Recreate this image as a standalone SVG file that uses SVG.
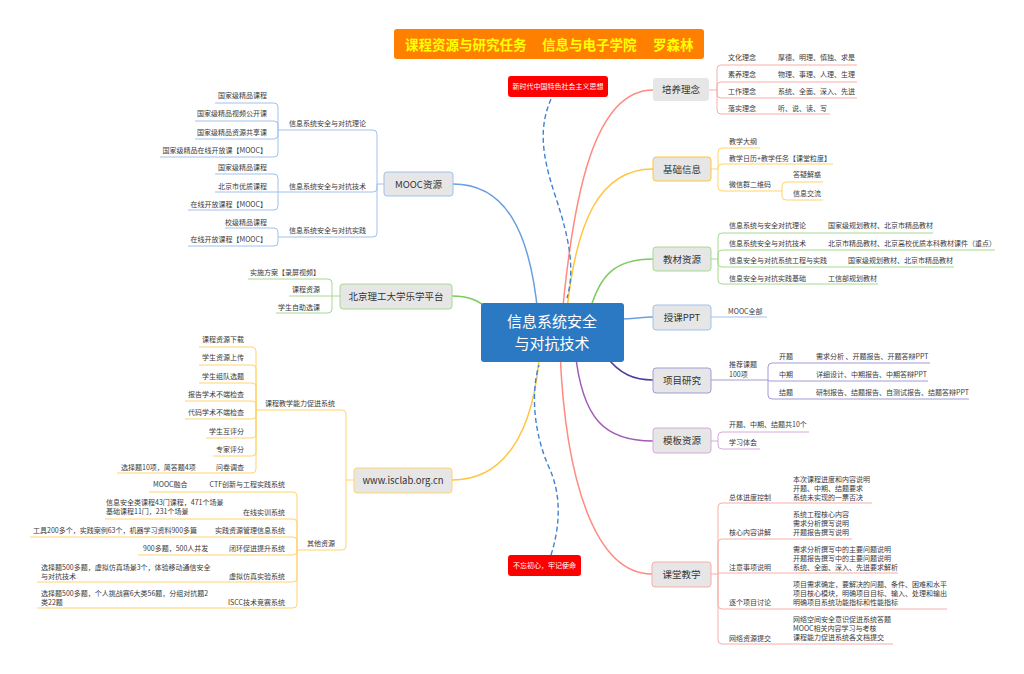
<svg xmlns="http://www.w3.org/2000/svg" width="1024" height="674" viewBox="0 0 1024 674">
<style>
text{font-family:"Noto Sans CJK SC","Noto Sans",sans-serif;}
.t{font-size:7px;fill:#3a3a3a}
.e{text-anchor:end}
.n{font-size:9.5px;fill:#333;text-anchor:middle}
.box{fill:#E6E6E6;stroke-width:1}
path{fill:none}
.m{stroke-width:1.5}
.k{stroke-width:1}
.red{stroke:#FF8A80}.redS{stroke:#F8ADA6}
.yel{stroke:#FFC53D}.yelS{stroke:#FFD46E}
.grn{stroke:#7CCB5E}.grnS{stroke:#A5DB8E}
.blu{stroke:#6B9FE3}.bluS{stroke:#A0C2EE}
.pur{stroke:#4B3EA0}.purS{stroke:#A29AD8}
.mag{stroke:#A15BB4}.magS{stroke:#D6A8DB}
.dash{stroke:#3F82D2;stroke-width:1.4;stroke-dasharray:5 3}
.rt{font-size:7px;fill:#fff;text-anchor:middle}
</style>
<defs>
<marker id="ar" viewBox="0 0 10 10" refX="9" refY="5" markerWidth="7" markerHeight="7" orient="auto" markerUnits="userSpaceOnUse">
<path d="M0,1 L10,5 L0,9 z" fill="#3F82D2" stroke="none"/>
</marker>
</defs>
<rect width="1024" height="674" fill="#fff"/>

<g id="connectors">
<path class="m red" d="M560,340 C572,190 595,90 653,90"/>
<path class="m yel" d="M566,320 C575,220 600,169 653,169"/>
<path class="m grn" d="M590,310 C600,275 615,259 653,259"/>
<path class="m blu" d="M620,319 C635,319 640,317 653,317"/>
<path class="m pur" d="M605,355 C620,375 635,380 653,380"/>
<path class="m mag" d="M575,350 C582,420 605,441 653,441"/>
<path class="m red" d="M560,350 C565,480 595,574 652,574"/>
<path class="m blu" d="M453,184 C505,184 530,230 538,315"/>
<path class="m grn" d="M452,296 C468,296 478,300 490,310"/>
<path class="m yel" d="M540,345 C535,440 500,480 452,480"/>
<path class="dash" d="M551,99 C540,125 540,150 555,195 C570,240 575,270 567,298" marker-end="url(#ar)"/>
<path class="dash" d="M551,555 C562,520 560,490 548,465 C535,435 530,395 539,365" marker-end="url(#ar)"/>

<g class="k redS">
<path d="M709,90H717"/>
<path d="M717,90V69Q717,65 721,65H857"/>
<path d="M717,90V86Q717,82 721,82H857"/>
<path d="M717,90V94Q717,98 721,98H857"/>
<path d="M717,90V110Q717,114 721,114H830"/>
</g>
<g class="k yelS">
<path d="M711,169H718"/>
<path d="M718,169V152Q718,148 722,148H760"/>
<path d="M718,169V168Q718,164 722,164H833"/>
<path d="M718,169V187Q718,191 722,191H782"/>
<path d="M782,191V186Q782,182 786,182H823"/>
<path d="M782,191V196Q782,200 786,200H823"/>
</g>
<g class="k grnS">
<path d="M711,259H718"/>
<path d="M718,259V237Q718,233 722,233H933"/>
<path d="M718,259V254Q718,250 722,250H995"/>
<path d="M718,259V263Q718,267 722,267H954"/>
<path d="M718,259V280Q718,284 722,284H878"/>
</g>
<g class="k bluS">
<path d="M711,317H767"/>
</g>
<g class="k purS">
<path d="M711,380H768"/>
<path d="M768,380V367Q768,363 772,363H930"/>
<path d="M768,380L769,381H928"/>
<path d="M768,380V395Q768,399 772,399H969"/>
</g>
<g class="k magS">
<path d="M711,441H718"/>
<path d="M718,441V436Q718,432 722,432H809"/>
<path d="M718,441V445Q718,449 722,449H760"/>
</g>
<g class="k redS">
<path d="M711,574H718"/>
<path d="M718,574V507Q718,503 722,503H872"/>
<path d="M718,574V543Q718,539 722,539H852"/>
<path d="M718,574L719,573H898"/>
<path d="M718,574V605Q718,609 722,609H947"/>
<path d="M718,574V640Q718,644 722,644H893"/>
</g>
<g class="k bluS">
<path d="M384,184H377"/>
<path d="M377,184V134Q377,130 373,130H278"/>
<path d="M377,184V188Q377,192 373,192H278"/>
<path d="M377,184V233Q377,237 373,237H278"/>
<path d="M278,130V107Q278,103 274,103H215"/>
<path d="M278,130V125Q278,121 274,121H195"/>
<path d="M278,130V135Q278,139 274,139H195"/>
<path d="M278,130V153Q278,157 274,157H160"/>
<path d="M278,192V178Q278,174 274,174H215"/>
<path d="M278,192H215"/>
<path d="M278,192V206Q278,210 274,210H188"/>
<path d="M278,237V232Q278,228 274,228H225"/>
<path d="M278,237V242Q278,246 274,246H188"/>
</g>
<g class="k grnS">
<path d="M340,296H332"/>
<path d="M332,296V283Q332,279 328,279H248"/>
<path d="M332,296H289"/>
<path d="M332,296V309Q332,313 328,313H276"/>
</g>
<g class="k yelS">
<path d="M354,480H346"/>
<path d="M346,480V414Q346,410 342,410H256"/>
<path d="M346,480V546Q346,550 342,550H297"/>
<path d="M256,410V351Q256,347 252,347H199"/>
<path d="M256,410V369Q256,365 252,365H199"/>
<path d="M256,410V387Q256,383 252,383H199"/>
<path d="M256,410V405Q256,401 252,401H185"/>
<path d="M256,410V415Q256,419 252,419H185"/>
<path d="M256,410V434Q256,438 252,438H206"/>
<path d="M256,410V452Q256,456 252,456H213"/>
<path d="M256,410V469Q256,473 252,473H117"/>
<path d="M297,550V496Q297,492 293,492H149"/>
<path d="M297,550V523Q297,519 293,519H105"/>
<path d="M297,550V541Q297,537 293,537H30"/>
<path d="M297,550V551Q297,555 293,555H138"/>
<path d="M297,550V578Q297,582 293,582H37"/>
<path d="M297,550V604Q297,608 293,608H37"/>
</g>
</g>

<g id="title">
<rect x="394" y="29" width="310" height="30" rx="3" fill="#FF8000"/>
<text x="405" y="50" font-size="13.5" font-weight="bold" fill="#FFFF00">课程资源与研究任务</text>
<text x="542" y="50" font-size="13.5" font-weight="bold" fill="#FFFF00">信息与电子学院</text>
<text x="653" y="50" font-size="13.5" font-weight="bold" fill="#FFFF00">罗森林</text>
</g>

<g id="center">
<rect x="481" y="303" width="143" height="59" rx="3" fill="#2B79C2"/>
<text x="552" y="327" font-size="15" fill="#fff" text-anchor="middle">信息系统安全</text>
<text x="552" y="349" font-size="15" fill="#fff" text-anchor="middle">与对抗技术</text>
</g>

<g id="note1">
<rect x="508" y="76" width="100" height="21" rx="3" fill="#FF0000"/>
<text class="rt" x="558" y="89">新时代中国特色社会主义思想</text>
</g>
<g id="note2">
<rect x="508" y="555" width="73" height="21" rx="3" fill="#FF0000"/>
<text class="rt" x="544.5" y="568">不忘初心，牢记使命</text>
</g>

<g id="n-peiyang">
<rect class="box" x="653" y="78" width="56" height="23" rx="3"/>
<text class="n" x="681" y="93">培养理念</text>
<text class="t" x="728" y="60">文化理念</text><text class="t" x="778" y="60">厚德、明理、慎独、求是</text>
<text class="t" x="728" y="77">素养理念</text><text class="t" x="778" y="77">物理、事理、人理、生理</text>
<text class="t" x="728" y="93.5">工作理念</text><text class="t" x="778" y="93.5">系统、全面、深入、先进</text>
<text class="t" x="728" y="110.5">落实理念</text><text class="t" x="778" y="110.5">听、说、读、写</text>
</g>

<g id="n-jichu">
<rect class="box" x="653" y="157" width="58" height="24" rx="3" stroke="#FFC53D"/>
<text class="n" x="682" y="172.5">基础信息</text>
<text class="t" x="729" y="143.5">教学大纲</text>
<text class="t" x="729" y="160.5">教学日历+教学任务【课堂粒度】</text>
<text class="t" x="729" y="186.5">微信群二维码</text>
<text class="t" x="793" y="177">答疑解惑</text>
<text class="t" x="793" y="195.5">信息交流</text>
</g>

<g id="n-jiaocai">
<rect class="box" x="653" y="247" width="58" height="24" rx="3" stroke="#A5DB8E"/>
<text class="n" x="682" y="262.5">教材资源</text>
<text class="t" x="729" y="227.5">信息系统与安全对抗理论</text><text class="t" x="828" y="227.5">国家级规划教材、北京市精品教材</text>
<text class="t" x="729" y="245.5">信息系统安全与对抗技术</text><text class="t" x="828" y="245.5">北京市精品教材、北京高校优质本科教材课件（重点）</text>
<text class="t" x="729" y="262.5">信息安全与对抗系统工程与实践</text><text class="t" x="848" y="262.5">国家级规划教材、北京市精品教材</text>
<text class="t" x="729" y="280.5">信息安全与对抗实践基础</text><text class="t" x="828" y="280.5">工信部规划教材</text>
</g>

<g id="n-ppt">
<rect class="box" x="653" y="305" width="58" height="25" rx="3" stroke="#A0C2EE"/>
<text class="n" x="682" y="321">授课PPT</text>
<text class="t" x="728" y="313.5">MOOC全部</text>
</g>

<g id="n-xiangmu">
<rect class="box" x="653" y="368" width="58" height="25" rx="3" stroke="#A29AD8"/>
<text class="n" x="682" y="384">项目研究</text>
<text class="t" x="729" y="366.5">推荐课题</text>
<text class="t" x="729" y="376.5">100项</text>
<text class="t" x="779" y="358.5">开题</text><text class="t" x="816" y="358.5">需求分析 、开题报告、开题答辩PPT</text>
<text class="t" x="779" y="376.5">中期</text><text class="t" x="816" y="376.5">详细设计、中期报告、中期答辩PPT</text>
<text class="t" x="779" y="394.5">结题</text><text class="t" x="816" y="394.5">研制报告、结题报告、自测试报告、结题答辩PPT</text>
</g>

<g id="n-muban">
<rect class="box" x="653" y="428" width="58" height="25" rx="3" stroke="#D6A8DB"/>
<text class="n" x="682" y="444">模板资源</text>
<text class="t" x="729" y="426.5">开题、中期、结题共10个</text>
<text class="t" x="729" y="444.5">学习体会</text>
</g>

<g id="n-ketang">
<rect class="box" x="652" y="562" width="59" height="25" rx="3" stroke="#F8ADA6"/>
<text class="n" x="681.5" y="578">课堂教学</text>
<text class="t" x="729" y="499.5">总体进度控制</text>
<text class="t" x="793" y="481.5">本次课程进度和内容说明</text>
<text class="t" x="793" y="490.5">开题、中期、结题要求</text>
<text class="t" x="793" y="499.5">系统未实现的一票否决</text>
<text class="t" x="729" y="534.5">核心内容讲解</text>
<text class="t" x="793" y="516.5">系统工程核心内容</text>
<text class="t" x="793" y="525.5">需求分析撰写说明</text>
<text class="t" x="793" y="534.5">开题报告撰写说明</text>
<text class="t" x="729" y="569.5">注意事项说明</text>
<text class="t" x="793" y="551.5">需求分析撰写中的主要问题说明</text>
<text class="t" x="793" y="560.5">开题报告撰写中的主要问题说明</text>
<text class="t" x="793" y="569.5">系统、全面、深入、先进要求解析</text>
<text class="t" x="729" y="604.5">逐个项目讨论</text>
<text class="t" x="793" y="586.5">项目需求确定，要解决的问题、条件、困难和水平</text>
<text class="t" x="793" y="595.5">项目核心模块，明确项目目标、输入、处理和输出</text>
<text class="t" x="793" y="604.5">明确项目系统功能指标和性能指标</text>
<text class="t" x="729" y="640.5">网络资源提交</text>
<text class="t" x="793" y="621.5">网络空间安全意识促进系统答题</text>
<text class="t" x="793" y="630.5">MOOC相关内容学习与考核</text>
<text class="t" x="793" y="639.5">课程能力促进系统各文档提交</text>
</g>

<g id="n-mooc">
<rect class="box" x="384" y="172" width="69" height="24" rx="3" stroke="#A0C2EE"/>
<text class="n" x="418.5" y="187.5">MOOC资源</text>
<text class="t e" x="366" y="125.5">信息系统安全与对抗理论</text>
<text class="t e" x="366" y="188.5">信息系统安全与对抗技术</text>
<text class="t e" x="366" y="232.5">信息系统安全与对抗实践</text>
<text class="t e" x="267" y="97.5">国家级精品课程</text>
<text class="t e" x="267" y="115.5">国家级精品视频公开课</text>
<text class="t e" x="267" y="134.5">国家级精品资源共享课</text>
<text class="t e" x="267" y="152.5">国家级精品在线开放课【MOOC】</text>
<text class="t e" x="267" y="169.5">国家级精品课程</text>
<text class="t e" x="267" y="188.5">北京市优质课程</text>
<text class="t e" x="267" y="206.5">在线开放课程【MOOC】</text>
<text class="t e" x="267" y="224.5">校级精品课程</text>
<text class="t e" x="267" y="241.5">在线开放课程【MOOC】</text>
</g>

<g id="n-lexue">
<rect class="box" x="340" y="284" width="112" height="25" rx="3" stroke="#A5DB8E"/>
<text class="n" x="396" y="300">北京理工大学乐学平台</text>
<text class="t e" x="320" y="274.5">实施方案【录屏视频】</text>
<text class="t e" x="320" y="291.5">课程资源</text>
<text class="t e" x="320" y="309.5">学生自助选课</text>
</g>

<g id="n-isclab">
<rect class="box" x="354" y="468" width="98" height="25" rx="3" stroke="#FFD46E"/>
<text class="n" x="403" y="484">www.isclab.org.cn</text>
<text class="t e" x="335" y="405.5">课程教学能力促进系统</text>
<text class="t e" x="335" y="545.5">其他资源</text>
<text class="t e" x="244" y="342">课程资源下载</text>
<text class="t e" x="244" y="360">学生资源上传</text>
<text class="t e" x="244" y="378.5">学生组队选题</text>
<text class="t e" x="244" y="396.5">报告学术不端检查</text>
<text class="t e" x="244" y="414.5">代码学术不端检查</text>
<text class="t e" x="244" y="433.5">学生互评分</text>
<text class="t e" x="244" y="451.5">专家评分</text>
<text class="t e" x="244" y="469.5">问卷调查</text>
<text class="t" x="121" y="469.5">选择题10项，简答题4项</text>
<text class="t e" x="285" y="487">CTF创新与工程实践系统</text>
<text class="t" x="153" y="487">MOOC融合</text>
<text class="t e" x="285" y="514.5">在线实训系统</text>
<text class="t" x="106" y="504.5">信息安全类课程43门课程，471个场景</text>
<text class="t" x="106" y="514">基础课程11门，231个场景</text>
<text class="t e" x="285" y="532.5">实践资源管理信息系统</text>
<text class="t" x="33" y="532.5">工具200多个，实践案例63个，机器学习资料900多篇</text>
<text class="t e" x="285" y="550.5">闭环促进提升系统</text>
<text class="t" x="143" y="550.5">900多题，500人并发</text>
<text class="t e" x="285" y="578.5">虚拟仿真实验系统</text>
<text class="t" x="41" y="569.5">选择题500多题，虚拟仿真场景3个，体验移动通信安全</text>
<text class="t" x="41" y="578.5">与对抗技术</text>
<text class="t e" x="285" y="605">ISCC技术竞赛系统</text>
<text class="t" x="41" y="596">选择题500多题，个人挑战赛6大类56题，分组对抗题2</text>
<text class="t" x="41" y="605">类22题</text>
</g>
</svg>
